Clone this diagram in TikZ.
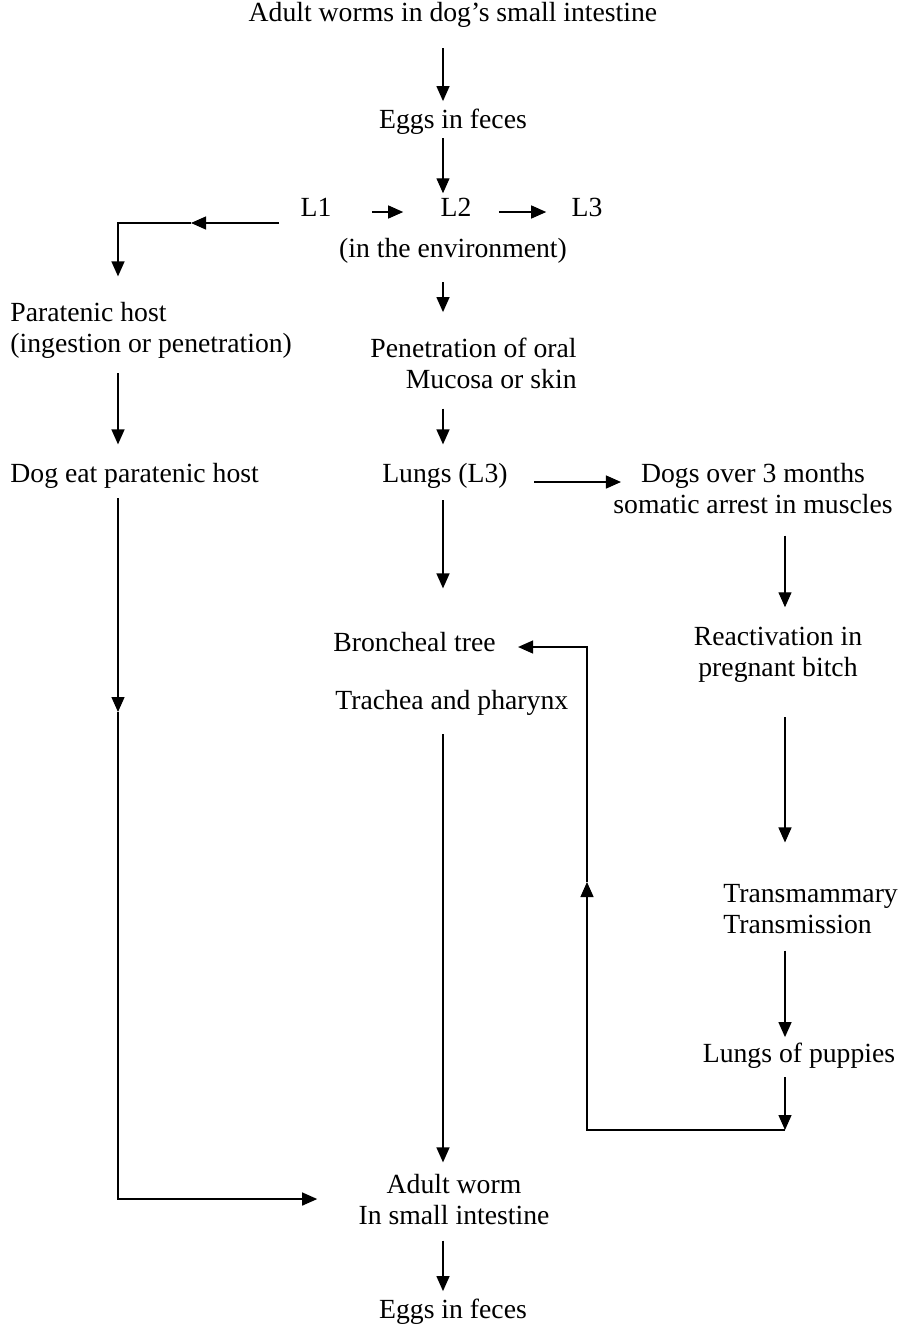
\documentclass[tikz,border=0pt]{standalone}
\usepackage{fontspec}
\setmainfont{Liberation Serif}
\usetikzlibrary{arrows.meta}
\newcommand{\diagfont}{\fontsize{13.85}{15.5}\selectfont}
\tikzset{lbl/.style={inner sep=0pt, font=\diagfont},
  arr/.style={->, line width=0.65pt}}

\begin{document}
\begin{tikzpicture}[x=0.5pt, y=-0.5pt, >={Triangle[length=7.5pt,width=6.5pt]}]
\useasboundingbox (0,0) rectangle (901,1329);
% x of the vertical arrows
\coordinate (cl) at (118,0);
\coordinate (cm) at (443,0);
\coordinate (cr) at (785,0);

% main column (two-line nodes sit on their last line)
\node[lbl, anchor=base] (top) at (453,21) {Adult worms in dog’s small intestine};
\node[lbl, anchor=base] (eggsA) at (453,128) {Eggs in feces};
\node[lbl, anchor=base] (Lone) at (316,216) {L1};
\node[lbl, anchor=base] (Ltwo) at (456,216) {L2};
\node[lbl, anchor=base] (Lthree) at (587,216) {L3};
\node[lbl, anchor=base] (env) at (453,257) {(in the environment)};
\node[lbl, anchor=base east, align=right] (pen) at (577,388) {Penetration of oral\\Mucosa or skin};
\node[lbl, anchor=base] (lungs) at (445,482) {Lungs (L3)};
\node[lbl, anchor=base west] (bronch) at (333,651) {Broncheal tree};
\node[lbl, anchor=base west] (trach) at (335,709) {Trachea and pharynx};
\node[lbl, anchor=base, align=center] (worm) at (454,1224) {Adult worm\\In small intestine};
\node[lbl, anchor=base] (eggsB) at (453,1318) {Eggs in feces};

% left column
\node[lbl, anchor=base west, align=left] (para) at (10,352) {Paratenic host\\(ingestion or penetration)};
\node[lbl, anchor=base west] (dogeat) at (10,482) {Dog eat paratenic host};

% right column
\node[lbl, anchor=base, align=center] (dogs) at (753,513) {Dogs over 3 months\\somatic arrest in muscles};
\node[lbl, anchor=base, align=center] (react) at (778,676) {Reactivation in\\pregnant bitch};
\node[lbl, anchor=base west, align=left] (trans) at (723,933) {Transmammary\\Transmission};
\node[lbl, anchor=base] (pups) at (799,1062) {Lungs of puppies};

% arrows
\draw[arr, shorten <=10.5pt, shorten >=3.5pt] (top.south -| cm) -- (eggsA.north -| cm);
\draw[arr, shorten <=2pt, shorten >=2pt] (eggsA.south -| cm) -- (Ltwo.north -| cm);
\draw[arr, shorten <=20pt, shorten >=18.5pt] ([yshift=2pt]Lone.base east) -- ([yshift=2pt]Ltwo.base west);
\draw[arr, shorten <=13.5pt, shorten >=12.5pt] ([yshift=2pt]Ltwo.base east) -- ([yshift=2pt]Lthree.base west);

% L1 to the paratenic host
\coordinate (lbend) at (118,223);
\coordinate (lhead) at (191,223);
\draw[arr] ([xshift=-10.5pt]Lone.west |- lbend) -- (lhead);
\draw[arr, shorten >=12.5pt] (lhead) -- (lbend) -- (para.north -| lbend);
\draw[arr, shorten <=7.5pt, shorten >=9pt] (para.south -| cl) -- (dogeat.north -| cl);
\coordinate (dhead) at (118,712);
\draw[arr, shorten <=5pt] (dogeat.south -| cl) -- (dhead);
\draw[arr, shorten >=20.5pt] (dhead) |- (worm.west);

% middle
\draw[arr, shorten <=9.5pt, shorten >=12.5pt] (env.south -| cm) -- (pen.north -| cm);
\draw[arr, shorten <=10pt, shorten >=9pt] (pen.south -| cm) -- (lungs.north -| cm);
\draw[arr, shorten <=13pt] (lungs.base east) -- ([xshift=4pt]dogs.west |- lungs.base);
\draw[arr, shorten <=6pt, shorten >=21.5pt] (lungs.south -| cm) -- (bronch.north -| cm);
\draw[arr, shorten <=9.5pt, shorten >=5.5pt] (trach.south -| cm) -- (worm.north -| cm);
\draw[arr, shorten <=8pt, shorten >=3.5pt] (worm.south -| cm) -- (eggsB.north -| cm);

% right
\draw[arr, shorten <=11pt, shorten >=9.5pt] (dogs.south -| cr) -- (react.north -| cr);
\draw[arr, shorten <=17.5pt, shorten >=20.5pt] (react.south -| cr) -- (trans.north -| cr);
\draw[arr, shorten <=8.5pt, shorten >=2.5pt] (trans.south -| cr) -- (pups.north -| cr);

% puppies back to the broncheal tree
\coordinate (pcorner) at (785,1130);
\coordinate (bcorner) at (587,1130);
\coordinate (uphead) at (587,882);
\coordinate (tcorner) at (587,647);
\draw[arr, shorten <=4.5pt] (pups.south -| cr) -- (pcorner);
\draw[arr] (pcorner) -- (bcorner) -- (uphead);
\draw[arr] (uphead) -- (tcorner) -- ([xshift=11pt]bronch.east |- tcorner);
\end{tikzpicture}
\end{document}
